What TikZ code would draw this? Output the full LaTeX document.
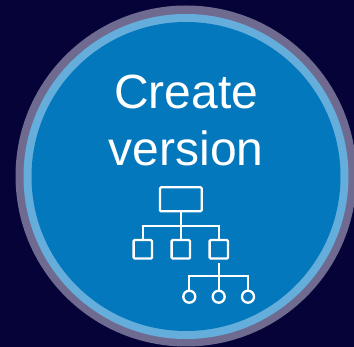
\documentclass[tikz,border=0pt]{standalone}
\usepackage{fontspec}
\setmainfont{Liberation Sans}
\definecolor{bgnavy}{HTML}{060339}
\definecolor{ringgrey}{HTML}{6F6B90}
\definecolor{ringlight}{HTML}{65AEDB}
\definecolor{discblue}{HTML}{0378BD}
\tikzset{
  iconline/.style={draw=white,line width=2.3pt},
  bigbox/.style={iconline,rounded corners=1.2pt,minimum width=41.7pt,minimum height=24pt,inner sep=0pt,outer sep=0pt},
  smallbox/.style={iconline,rounded corners=1.2pt,minimum width=18.4pt,minimum height=18.6pt,inner sep=0pt,outer sep=0pt},
  leafdot/.style={iconline,circle,minimum size=12pt,inner sep=0pt,outer sep=0pt},
  title/.style={text=white,font=\fontsize{48}{57}\selectfont,align=center,inner sep=0pt}
}
\begin{document}
\begin{tikzpicture}[x=1pt,y=-1pt]
\useasboundingbox (0,0) rectangle (354,347);
\clip (0,0) rectangle (354,347);
\fill[bgnavy] (0,0) rectangle (354,347);
\fill[ringgrey] (186,176) circle[radius=170.5];
\fill[ringlight] (186,176.5) circle[radius=162.5];
\fill[discblue] (186,176.5) circle[radius=154.5];
\node[title] (label) at (186.3,120) {Create\\version};
\node[bigbox] (root) at (180.8,199.3) {};
\node[smallbox] (b1) at (142.8,249.3) {};
\node[smallbox] (b2) at (180.8,249.3) {};
\node[smallbox] (b3) at (218.8,249.3) {};
\node[leafdot] (c1) at (189.3,296.7) {};
\node[leafdot] (c2) at (218.7,296.7) {};
\node[leafdot] (c3) at (248,296.7) {};
\coordinate (j1) at (180.8,225.7);
\coordinate (j2) at (218.7,276);
\coordinate (stemtop) at (218.7,263.3);
\draw[iconline] (root.south) -- (b2.north);
\draw[iconline] (b1.north) |- (j1) -| (b3.north);
\draw[iconline] (stemtop) -- (c2.north);
\draw[iconline] (c1.north) |- (j2) -| (c3.north);
\end{tikzpicture}
\end{document}
